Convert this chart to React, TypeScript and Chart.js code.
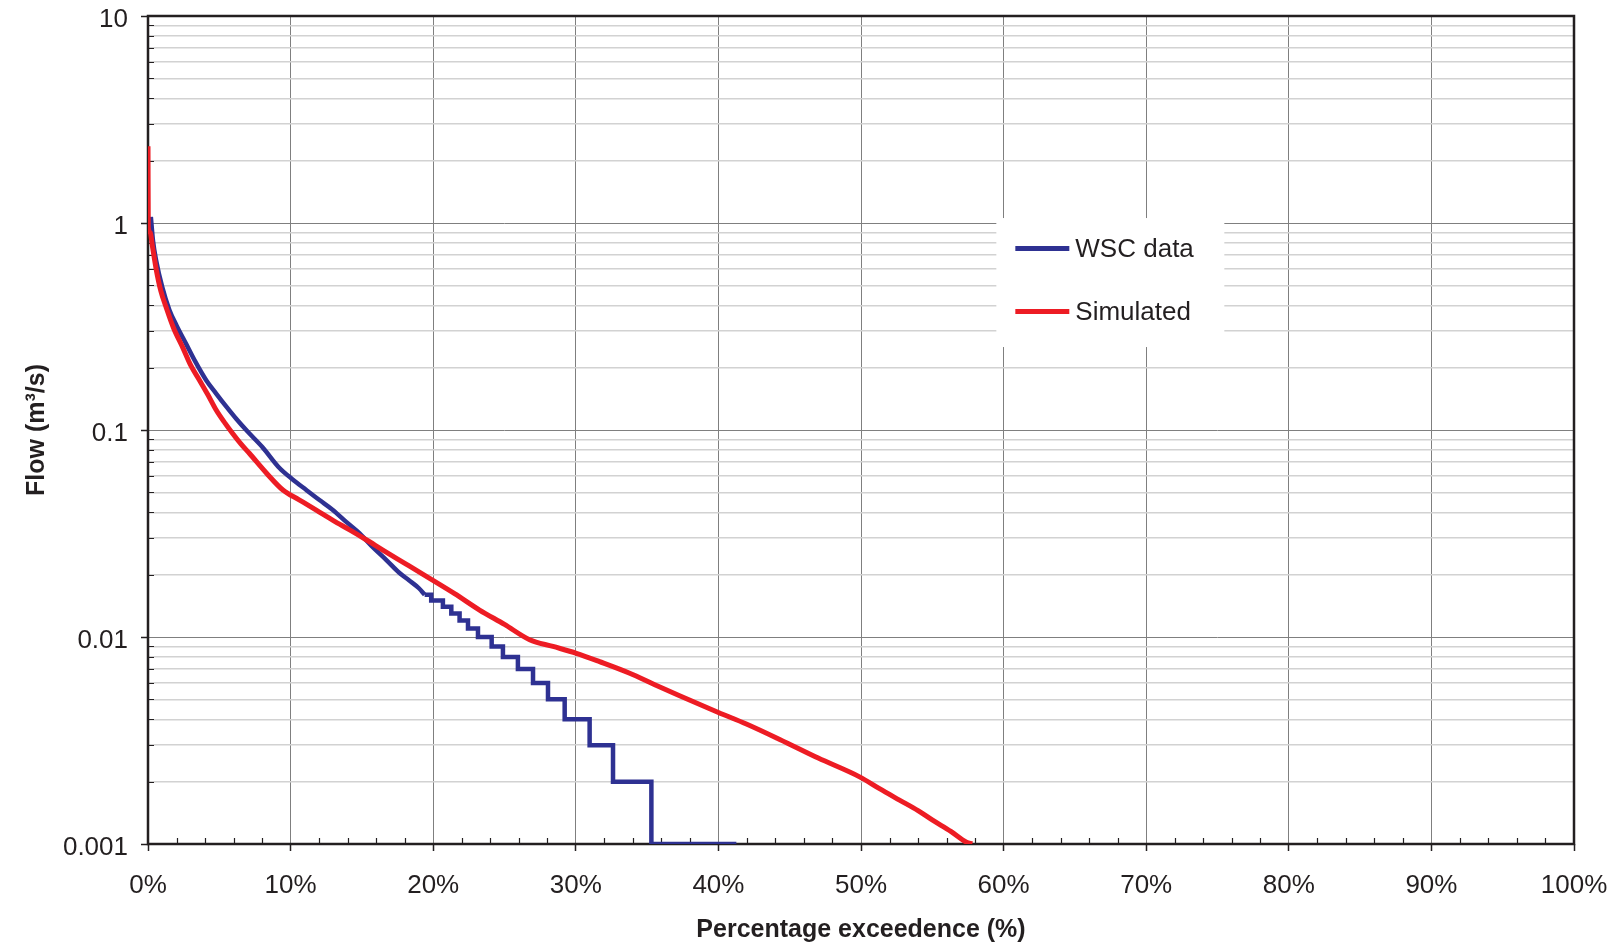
import React, { useEffect, useRef } from 'react';
import { Chart, registerables } from 'chart.js';

Chart.register(...registerables);

// ---- Axis ticks ----
const xTickValues = [0, 10, 20, 30, 40, 50, 60, 70, 80, 90, 100];
const xTickLabels = ['0%', '10%', '20%', '30%', '40%', '50%', '60%', '70%', '80%', '90%', '100%'];
const xMinorTickValues = [2, 4, 6, 8, 12, 14, 16, 18, 22, 24, 26, 28, 32, 34, 36, 38, 42, 44, 46, 48, 52, 54, 56, 58, 62, 64, 66, 68, 72, 74, 76, 78, 82, 84, 86, 88, 92, 94, 96, 98];
const yMajorTickValues = [0.001, 0.01, 0.1, 1, 10];
const yTickLabels = ['0.001', '0.01', '0.1', '1', '10'];
const yMinorMultipliers = [2, 3, 4, 5, 6, 7, 8, 9];

// ---- Series: Simulated ----
const simulatedPct = [0, 0.02, 0.15, 0.3, 0.57, 0.9, 1.28, 1.8, 2.44, 3.0, 3.61, 4.2, 4.78, 5.4, 5.95, 6.5, 7.12, 8.3, 9.46, 10.6, 11.8, 13.0, 14.14, 15.3, 16.47, 18.1, 19.75, 21.5, 23.25, 25.0, 26.76, 28.4, 30.04, 31.67, 33.78, 35.5, 37.28, 40.0, 41.96, 44.3, 47.0, 49.9, 51.3, 52.7, 54.0, 55.05, 56.3, 57.4, 57.8];
const simulatedFlow = [2.35, 0.95, 0.9, 0.78, 0.6, 0.47, 0.39, 0.31, 0.25, 0.205, 0.174, 0.148, 0.125, 0.108, 0.096, 0.086, 0.077, 0.062, 0.0513, 0.046, 0.041, 0.0365, 0.0329, 0.0295, 0.0263, 0.0225, 0.0192, 0.0162, 0.0135, 0.0115, 0.0097, 0.009, 0.00834, 0.0076, 0.00668, 0.0059, 0.0052, 0.00432, 0.0038, 0.0032, 0.0026, 0.00211, 0.00185, 0.00163, 0.00145, 0.0013, 0.00115, 0.00102, 0.001];

// ---- Series: WSC data (upper, fine resolution) ----
const wscPct = [0.2, 0.35, 0.57, 1.0, 1.5, 2.0, 2.68, 3.3, 4.08, 4.78, 5.48, 6.2, 7.0, 8.0, 9.22, 10.1, 11.1, 12.0, 12.96, 13.9, 14.84, 15.8, 16.7, 17.6, 18.3, 19.0, 19.4];
const wscFlow = [1.07, 0.82, 0.66, 0.49, 0.38, 0.32, 0.26, 0.215, 0.174, 0.15, 0.13, 0.113, 0.098, 0.083, 0.0655, 0.058, 0.0513, 0.046, 0.0411, 0.036, 0.0317, 0.027, 0.0236, 0.0205, 0.0188, 0.0172, 0.016];

// ---- Series: WSC data (lower, discrete 0.001 steps) ----
const wscStepPct = [19.4, 19.86, 20.68, 21.27, 21.85, 22.44, 23.14, 24.1, 24.89, 25.94, 27.0, 28.05, 29.22, 30.97, 32.61, 35.3, 41.26];
const wscStepFlow = [0.016, 0.015, 0.014, 0.013, 0.012, 0.011, 0.010, 0.009, 0.008, 0.007, 0.006, 0.005, 0.004, 0.003, 0.002, 0.001, 0.001];

const seriesNames = ['WSC data', 'Simulated'];
const BLUE = '#2e3192';
const RED = '#ed1c24';
const INK = '#231f20';
const FONT = "'Liberation Sans', Arial, sans-serif";

const isDecade = (v: number) => Math.abs(Math.log10(v) - Math.round(Math.log10(v))) < 1e-6;

const framePlugin = {
  id: 'frameAndLegend',
  beforeDatasetsDraw(chart: any) {
    const { ctx, chartArea, scales } = chart;
    const { left, right, top, bottom } = chartArea;
    ctx.save();
    // legend box (white, covering grid)
    const lx = left + (right - left) * 0.5949;
    const ly = top + (bottom - top) * 0.244;
    const lw = 228;
    const lh = 129;
    ctx.fillStyle = '#ffffff';
    ctx.fillRect(lx, ly, lw, lh);
    // minor inward ticks
    ctx.strokeStyle = INK;
    ctx.lineWidth = 1.2;
    ctx.beginPath();
    for (const d of yMajorTickValues.slice(0, -1)) {
      for (const m of yMinorMultipliers) {
        const py = Math.round(scales.y.getPixelForValue(d * m)) + 0.5;
        ctx.moveTo(left, py);
        ctx.lineTo(left + 6, py);
      }
    }
    for (const v of xMinorTickValues) {
      const px = Math.round(scales.x.getPixelForValue(v)) + 0.5;
      ctx.moveTo(px, bottom);
      ctx.lineTo(px, bottom - 6);
    }
    ctx.stroke();
    // frame
    ctx.lineWidth = 2.5;
    ctx.strokeStyle = INK;
    ctx.strokeRect(left, top, right - left, bottom - top);
    // legend content
    const items = [
      { label: seriesNames[0], color: BLUE, y: ly + 30.5 },
      { label: seriesNames[1], color: RED, y: ly + 93.5 },
    ];
    ctx.font = `26px ${FONT}`;
    ctx.textBaseline = 'middle';
    ctx.textAlign = 'left';
    for (const it of items) {
      ctx.strokeStyle = it.color;
      ctx.lineWidth = 5;
      ctx.beginPath();
      ctx.moveTo(lx + 19, it.y);
      ctx.lineTo(lx + 73, it.y);
      ctx.stroke();
      ctx.fillStyle = INK;
      ctx.fillText(it.label, lx + 79, it.y + 1);
    }
    ctx.restore();
  },
};

export default function App() {
  const canvasRef = useRef<HTMLCanvasElement | null>(null);

  useEffect(() => {
    const canvas = canvasRef.current;
    if (!canvas) return;

    const simulated = simulatedPct.map((x, i) => ({ x, y: simulatedFlow[i] }));
    const wscUpper = wscPct.map((x, i) => ({ x, y: wscFlow[i] }));
    const wscSteps = wscStepPct.map((x, i) => ({ x, y: wscStepFlow[i] }));

    const yTicks: number[] = [];
    yMajorTickValues.forEach((d, i) => {
      yTicks.push(d);
      if (i < yMajorTickValues.length - 1) yMinorMultipliers.forEach((m) => yTicks.push(d * m));
    });
    yTicks.sort((a, b) => a - b);

    const chart = new Chart(canvas, {
      type: 'line',
      data: {
        datasets: [
          {
            label: seriesNames[1],
            data: simulated,
            borderColor: RED,
            borderWidth: 5,
            pointRadius: 0,
            cubicInterpolationMode: 'monotone',
            order: 0,
          },
          {
            label: seriesNames[0],
            data: wscUpper,
            borderColor: BLUE,
            borderWidth: 4.5,
            pointRadius: 0,
            cubicInterpolationMode: 'monotone',
            order: 1,
          },
          {
            label: seriesNames[0] + ' ',
            data: wscSteps,
            borderColor: BLUE,
            borderWidth: 4.5,
            pointRadius: 0,
            stepped: 'before',
            order: 1,
          },
        ],
      },
      options: {
        animation: false,
        responsive: false,
        maintainAspectRatio: false,
        devicePixelRatio: 1,
        layout: { padding: { left: 0, right: 45, top: 16, bottom: 0 } },
        plugins: {
          legend: { display: false },
          tooltip: { enabled: false },
        },
        scales: {
          x: {
            type: 'linear',
            min: 0,
            max: 100,
            afterBuildTicks: (scale: any) => {
              scale.ticks = xTickValues.map((v) => ({ value: v }));
            },
            afterFit: (scale: any) => {
              scale.height = 101;
              scale.paddingLeft = 0;
              scale.paddingRight = 0;
              scale.paddingTop = 0;
              scale.paddingBottom = 0;
            },
            ticks: {
              autoSkip: false,
              maxRotation: 0,
              padding: 19,
              color: INK,
              font: { family: FONT, size: 26 },
              callback: (v: any) => xTickLabels[xTickValues.indexOf(Number(v))] ?? '',
            },
            grid: {
              color: '#7f7f7f',
              lineWidth: 1,
              tickLength: 7,
              tickColor: INK,
              tickWidth: 1.5,
            },
            border: { display: false },
            title: {
              display: true,
              text: 'Percentage exceedence (%)',
              color: INK,
              font: { family: FONT, size: 25, weight: 'bold' },
              padding: { top: 0, bottom: 0 },
            },
          },
          y: {
            type: 'logarithmic',
            min: 0.001,
            max: 10,
            afterBuildTicks: (scale: any) => {
              scale.ticks = yTicks.map((v) => ({ value: v, major: isDecade(v) }));
            },
            afterFit: (scale: any) => {
              scale.width = 148;
              scale.paddingLeft = 0;
              scale.paddingRight = 0;
              scale.paddingTop = 0;
              scale.paddingBottom = 0;
            },
            ticks: {
              autoSkip: false,
              padding: 13,
              labelOffset: 4,
              color: INK,
              font: { family: FONT, size: 26 },
              callback: (v: any) => {
                const idx = yMajorTickValues.findIndex((d) => Math.abs(d - Number(v)) / d < 1e-6);
                return idx >= 0 ? yTickLabels[idx] : '';
              },
            },
            grid: {
              color: (c: any) => (c.tick && isDecade(c.tick.value) ? '#7f7f7f' : '#d2d2d2'),
              lineWidth: (c: any) => (c.tick && isDecade(c.tick.value) ? 1 : 1.5),
              tickLength: 7,
              tickColor: (c: any) => (c.tick && isDecade(c.tick.value) ? INK : 'rgba(0,0,0,0)'),
              tickWidth: 1.5,
            },
            border: { display: false },
            title: {
              display: true,
              text: 'Flow (m³/s)',
              color: INK,
              font: { family: FONT, size: 25, weight: 'bold' },
              padding: { top: 22, bottom: 0 },
            },
          },
        },
      },
      plugins: [framePlugin],
    } as any);

    return () => chart.destroy();
  }, []);

  return (
    <div style={{ position: 'absolute', left: 0, top: 0, width: 1619, height: 945, background: '#fff' }}>
      <canvas ref={canvasRef} width={1619} height={945} />
    </div>
  );
}
